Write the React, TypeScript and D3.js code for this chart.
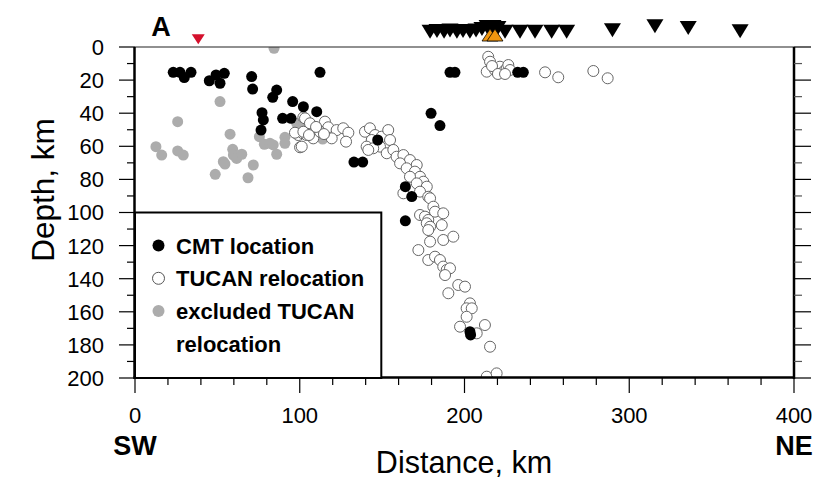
import React from 'react';
import * as d3 from 'd3';

// ---------- data (distance km, depth km) ----------
const cmtPoints: [number, number][] = [
  [23.2, 15.3], [27.3, 15.3], [29.9, 18.5], [34.0, 15.3],
  [45.1, 20.4], [49.2, 16.9], [51.6, 21.9], [54.2, 15.9],
  [70.8, 17.9], [71.4, 25.4], [83.6, 30.4], [86.0, 26.0],
  [95.7, 33.0], [102.2, 36.1], [77.1, 39.7], [77.9, 44.1],
  [89.6, 43.1], [94.7, 43.1], [76.5, 50.2], [112.3, 15.3],
  [191.2, 15.3], [194.2, 15.3], [110.3, 39.1], [179.7, 40.1],
  [185.1, 47.5], [147.3, 56.2], [132.9, 69.5], [138.2, 69.5],
  [164.1, 84.4], [168.0, 90.4], [164.1, 105.0], [203.3, 172.0],
  [203.7, 174.0], [232.3, 15.3], [235.7, 15.3],
];

const tucanPoints: [number, number][] = [
  [102.2, 42.5], [99.1, 53.2], [101.8, 52.1], [104.2, 53.2], [100.2, 60.6], [97.1, 51.8],
  [103.2, 43.1], [102.2, 51.2], [108.2, 55.2], [115.3, 45.1], [117.3, 48.5], [122.4, 50.2],
  [126.4, 49.1], [129.5, 51.8], [128.1, 57.2], [119.4, 55.2], [112.3, 51.2], [106.2, 46.1],
  [101.2, 60.2], [109.9, 48.3], [114.7, 52.6], [105.6, 53.2],
  [139.6, 51.2], [142.6, 49.1], [145.7, 53.2], [143.7, 56.2], [140.6, 60.2], [149.7, 54.2],
  [153.7, 50.2], [154.8, 56.2], [148.7, 60.2], [144.6, 61.2], [141.6, 62.2], [152.8, 64.2],
  [156.8, 62.2], [158.8, 66.3], [162.9, 65.3], [166.9, 68.3], [171.0, 71.3], [160.9, 70.3],
  [164.9, 73.3], [169.9, 75.3], [173.0, 78.4], [166.9, 78.4], [175.0, 81.4], [171.0, 82.4],
  [177.1, 84.4], [162.9, 88.4], [173.0, 87.4], [178.0, 90.5],
  [179.1, 91.4], [181.1, 96.5], [182.1, 99.5], [187.1, 100.5], [173.0, 101.5], [176.0, 102.5],
  [178.0, 104.5], [177.1, 106.5], [179.1, 108.6], [186.2, 107.6], [178.0, 110.6], [187.1, 116.6],
  [193.2, 114.6], [179.1, 117.6], [172.0, 122.7], [178.0, 128.7], [182.1, 126.7], [185.1, 128.7],
  [187.1, 132.7], [189.2, 134.7], [191.2, 133.7], [188.2, 137.8], [190.2, 148.8], [196.2, 143.8],
  [200.3, 144.8], [203.3, 154.9], [201.3, 157.9], [204.4, 157.9], [201.3, 163.0], [197.3, 169.0],
  [207.4, 173.0], [212.4, 168.0], [215.5, 181.1], [213.5, 199.2], [219.5, 197.2],
  [214.4, 5.9], [215.5, 8.9], [213.5, 14.9], [218.5, 13.9], [221.5, 11.9], [223.6, 14.9],
  [225.6, 12.9], [226.6, 10.9], [227.6, 13.9], [216.7, 11.5], [220.3, 16.3], [224.6, 16.3],
  [248.9, 15.3], [256.9, 18.3], [278.2, 14.5], [286.9, 18.9],
];

const excludedPoints: [number, number][] = [
  [84.4, 0.8], [51.6, 33.0], [25.9, 45.1], [57.7, 52.7], [75.5, 54.2], [91.0, 54.6],
  [91.0, 58.2], [12.7, 60.2], [16.2, 65.3], [25.9, 62.8], [29.3, 65.3], [59.3, 61.8],
  [59.7, 65.3], [61.7, 67.3], [64.8, 64.8], [53.6, 69.3], [54.6, 70.7], [78.5, 58.8],
  [81.9, 58.2], [83.9, 59.2], [86.0, 64.8], [71.8, 71.3], [48.7, 76.9], [68.6, 79.0],
  [98.1, 46.1], [102.2, 47.1], [104.2, 47.1], [113.9, 55.6],
];

// stations: distance km, elevation km
const stationDist = [179.1, 183.3, 187.6, 191.2, 195.4, 199.1, 203.3, 207.0, 210.6, 213.7, 217.3, 220.3,
  224.6, 233.7, 242.8, 252.9, 262.0, 289.8, 315.6, 335.8, 367.3];
const stationElev = [0.77, 1.0, 0.77, 1.17, 0.77, 1.0, 0.77, 1.17, 1.67, 2.33, 2.33, 2.0,
  0.77, 0.77, 0.77, 0.77, 0.77, 1.23, 2.57, 2.0, 0.9];
const obsDist = [38.4];
const obsElev = [-1.1];
const volcanoDist = [215.5, 218.5];
const volcanoElev = [0, 0];

const depthMajor = [0, 20, 40, 60, 80, 100, 120, 140, 160, 180, 200];
const depthMinor = [10, 30, 50, 70, 90, 110, 130, 150, 170, 190];
const distMajor = [0, 100, 200, 300, 400];
const distMinor = [20, 40, 60, 80, 120, 140, 160, 180, 220, 240, 260, 280, 320, 340, 360, 380];

const legendItems = [
  { label: 'CMT location', kind: 'cmt' },
  { label: 'TUCAN relocation', kind: 'tucan' },
  { label: 'excluded TUCAN', kind: 'excl' },
  { label: 'relocation', kind: 'none' },
];

const W = 814, H = 481;
const L = 135, R = 794, T = 47, B = 378;
const FONT = '"Liberation Sans", Arial, Helvetica, sans-serif';

export default function App() {
  const x = d3.scaleLinear().domain([0, 400]).range([L, R]);
  const y = d3.scaleLinear().domain([0, 200]).range([T, B]);
  const elev = d3.scaleLinear().domain([0, 5]).range([41, 26]);
  const r = 5.5;

  const downTri = (cx: number, tipY: number, w: number, h: number) =>
    `M${cx},${tipY}L${cx - w / 2},${tipY - h}L${cx + w / 2},${tipY - h}Z`;
  const upTri = (cx: number, baseY: number, w: number, h: number) =>
    `M${cx},${baseY - h}L${cx - w / 2},${baseY}L${cx + w / 2},${baseY}Z`;

  return (
    <svg width={W} height={H} style={{ position: 'absolute', left: 0, top: 0, background: '#fff' }}
      fontFamily={FONT}>
      <defs>
        <clipPath id="plotclip">
          <rect x={L} y={T} width={R - L} height={B - T} />
        </clipPath>
      </defs>
      <rect x={0} y={0} width={W} height={H} fill="#fff" />

      {/* data */}
      <g clipPath="url(#plotclip)">
        {excludedPoints.map((p, i) => (
          <circle key={'e' + i} cx={x(p[0])} cy={y(p[1])} r={r} fill="#acacac" />
        ))}
        {tucanPoints.map((p, i) => (
          <circle key={'t' + i} cx={x(p[0])} cy={y(p[1])} r={r} fill="#fff" stroke="#666" strokeWidth={1} />
        ))}
        {cmtPoints.map((p, i) => (
          <circle key={'c' + i} cx={x(p[0])} cy={y(p[1])} r={r} fill="#000" />
        ))}
      </g>

      {/* frame */}
      <line x1={L} x2={R} y1={T} y2={T} stroke="#222" strokeWidth={1.2} />
      <line x1={L - 0.5} x2={L - 0.5} y1={T} y2={B + 1} stroke="#000" strokeWidth={2.5} />
      <line x1={R} x2={R} y1={T} y2={B + 1} stroke="#000" strokeWidth={2.5} />
      <line x1={L - 1.5} x2={R + 1} y1={B - 0.5} y2={B - 0.5} stroke="#000" strokeWidth={2.5} />

      {/* left ticks */}
      {depthMajor.map((d) => (
        <line key={'lm' + d} x1={L - 16} x2={L} y1={y(d)} y2={y(d)} stroke="#000" strokeWidth={1.2} />
      ))}
      {depthMinor.map((d) => (
        <line key={'ln' + d} x1={L - 8} x2={L} y1={y(d)} y2={y(d)} stroke="#000" strokeWidth={1.2} />
      ))}
      {/* right ticks */}
      {depthMajor.map((d) => (
        <line key={'rm' + d} x1={R} x2={R + 17} y1={y(d)} y2={y(d)} stroke="#000" strokeWidth={1.2} />
      ))}
      {depthMinor.map((d) => (
        <line key={'rn' + d} x1={R} x2={R + 8} y1={y(d)} y2={y(d)} stroke="#555" strokeWidth={1.2} />
      ))}
      {/* bottom ticks */}
      {distMajor.map((d) => (
        <line key={'bm' + d} x1={x(d)} x2={x(d)} y1={B} y2={B + 15} stroke="#000" strokeWidth={1.2} />
      ))}
      {distMinor.map((d) => (
        <line key={'bn' + d} x1={x(d)} x2={x(d)} y1={B} y2={B + 7} stroke="#000" strokeWidth={1.2} />
      ))}

      {/* tick labels */}
      {depthMajor.map((d) => (
        <text key={'yl' + d} x={104} y={y(d)} dy="0.36em" textAnchor="end" fontSize={22} fill="#000">
          {d}
        </text>
      ))}
      {distMajor.map((d) => (
        <text key={'xl' + d} x={x(d)} y={423} textAnchor="middle" fontSize={22} fill="#000">
          {d}
        </text>
      ))}

      {/* axis titles */}
      <text x={x(0)} y={455} textAnchor="middle" fontSize={27} fontWeight="bold">SW</text>
      <text x={x(400)} y={455} textAnchor="middle" fontSize={27} fontWeight="bold">NE</text>
      <text x={464} y={473} textAnchor="middle" fontSize={30.5}>Distance, km</text>
      <text transform={`translate(54,190) rotate(-90)`} textAnchor="middle" fontSize={31.5}>
        Depth, km
      </text>
      <text x={161} y={36} textAnchor="middle" fontSize={27} fontWeight="bold">A</text>

      {/* stations */}
      {obsDist.map((d, i) => (
        <path key={'o' + i} d={downTri(x(d), elev(obsElev[i]), 13, 10)} fill="#d4102c" />
      ))}
      {stationDist.map((d, i) => (
        <path key={'s' + i} d={downTri(x(d), elev(stationElev[i]), 17, 14)} fill="#000" />
      ))}
      {volcanoDist.map((d, i) => (
        <path key={'v' + i} d={upTri(x(d), elev(volcanoElev[i]), 16, 12)} fill="#f0960f" stroke="#000" strokeWidth={0.8} />
      ))}

      {/* legend */}
      <rect x={L} y={y(100)} width={x(149.5) - L} height={B - y(100)} fill="#fff" stroke="#000" strokeWidth={2} />
      {legendItems.map((it, i) => {
        const base = 253.5 + i * 32.8;
        return (
          <g key={'lg' + i}>
            {it.kind === 'cmt' && <circle cx={158.5} cy={base - 8} r={6} fill="#000" />}
            {it.kind === 'tucan' && <circle cx={158.5} cy={base - 8} r={6} fill="#fff" stroke="#555" strokeWidth={1} />}
            {it.kind === 'excl' && <circle cx={158.5} cy={base - 8} r={6} fill="#acacac" />}
            <text x={176} y={base} fontSize={22} fontWeight="bold" fill="#000">{it.label}</text>
          </g>
        );
      })}
    </svg>
  );
}
